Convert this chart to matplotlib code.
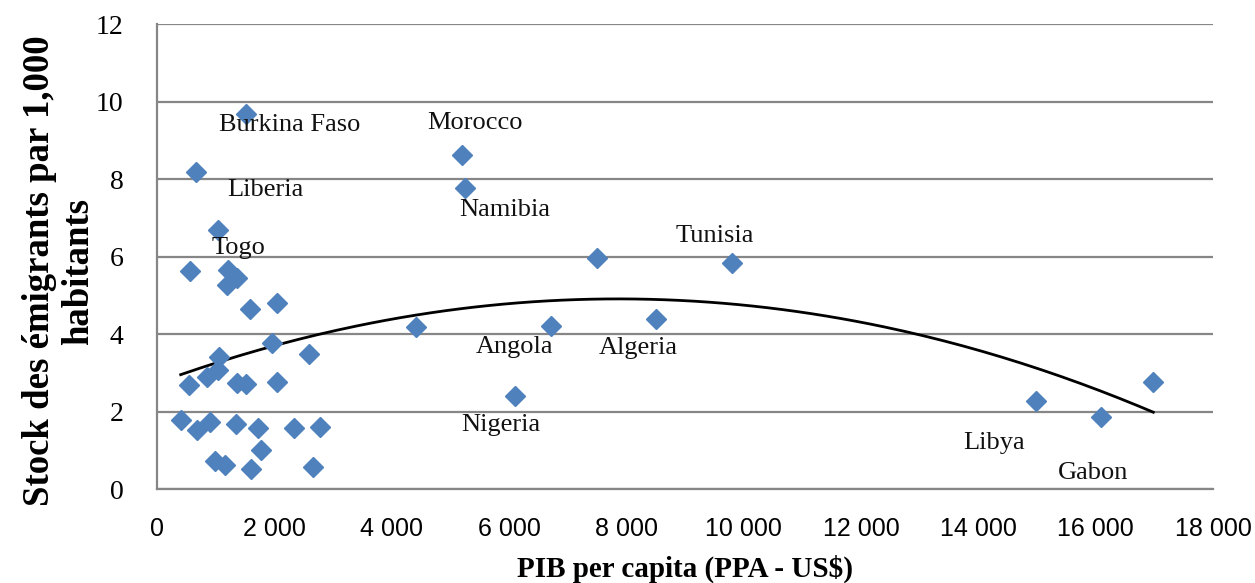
import numpy as np
import matplotlib.pyplot as plt
from matplotlib.ticker import FuncFormatter

# PIB per capita (PPA - US$) and stock of emigrants per 1,000 inhabitants
gdp = [1517, 665, 1045, 562, 1216, 1369, 1188, 1585, 2040, 4415,
       1955, 2597, 1057, 1045, 847, 551, 1369, 1511, 2040, 404,
       676, 903, 1346, 1727, 2341, 2778, 1767, 988, 1159, 1602,
       2665, 5193, 5250, 7495, 9806, 6716, 8505, 6102, 14982, 16085,
       16983]
stock = [9.68, 8.19, 6.68, 5.63, 5.65, 5.44, 5.26, 4.64, 4.79, 4.17,
         3.76, 3.48, 3.41, 3.07, 2.90, 2.68, 2.73, 2.71, 2.77, 1.78,
         1.52, 1.74, 1.68, 1.57, 1.57, 1.59, 1.01, 0.73, 0.62, 0.51,
         0.58, 8.62, 7.76, 5.95, 5.84, 4.21, 4.39, 2.41, 2.28, 1.87,
         2.77]

# country labels (text positions)
label_names = ['Burkina Faso', 'Liberia', 'Togo', 'Morocco', 'Namibia',
               'Tunisia', 'Angola', 'Algeria', 'Nigeria', 'Libya', 'Gabon']
label_x = [2267, 1841, 1389, 5412, 5931, 9511, 6102, 8198, 5855, 14275, 15954]
label_y = [9.39, 7.72, 6.22, 9.44, 7.20, 6.53, 3.66, 3.63, 1.65, 1.18, 0.41]

x_ticks = [0, 2000, 4000, 6000, 8000, 10000, 12000, 14000, 16000, 18000]
y_ticks = [0, 2, 4, 6, 8, 10, 12]

serif = 'Liberation Serif'
grid_col = '#868686'

fig = plt.figure(figsize=(12.55, 5.83), dpi=100)
ax = fig.add_axes([0.1251, 0.1612, 0.8414, 0.7976])

ax.set_xlim(0, 18000)
ax.set_ylim(0, 12)
ax.set_xticks(x_ticks)
ax.set_yticks(y_ticks)
ax.xaxis.set_major_formatter(FuncFormatter(lambda v, p: f'{int(v):,}'.replace(',', ' ')))

ax.grid(axis='y', color=grid_col, lw=1.6, zorder=0)
ax.set_axisbelow(True)
for side in ['top', 'right']:
    ax.spines[side].set_visible(False)
for side in ['left', 'bottom']:
    ax.spines[side].set_color(grid_col)
    ax.spines[side].set_linewidth(1.6)

ax.tick_params(axis='x', length=0, pad=20, labelsize=18)
ax.tick_params(axis='y', length=0, pad=24, labelsize=20)
for t in ax.get_xticklabels():
    t.set_fontfamily('Liberation Sans')
for t in ax.get_yticklabels():
    t.set_fontfamily(serif)

# polynomial (order 2) trend line, like the spreadsheet trendline
coef = np.polyfit(gdp, stock, 2)
xs = np.linspace(min(gdp), max(gdp), 200)
ax.plot(xs, np.polyval(coef, xs), color='black', lw=2, zorder=2)

ax.plot(gdp, stock, linestyle='none', marker='D', ms=10.5,
        color='#4F81BD', mec='#4F81BD', zorder=3)

for name, lx, ly in zip(label_names, label_x, label_y):
    ax.text(lx, ly, name, ha='center', va='center', fontsize=19,
            family=serif, color='#111111', zorder=4)

fig.text(0.5455, 0.025, 'PIB per capita (PPA - US$)', ha='center', va='center',
         fontsize=21, fontweight='bold', family=serif)
fig.text(0.047, 0.535, 'Stock des émigrants par 1,000\nhabitants', ha='center',
         va='center', rotation=90, fontsize=26.5, fontweight='bold', family=serif,
         linespacing=1.12, multialignment='center')

fig.savefig('out.png', dpi=100)
